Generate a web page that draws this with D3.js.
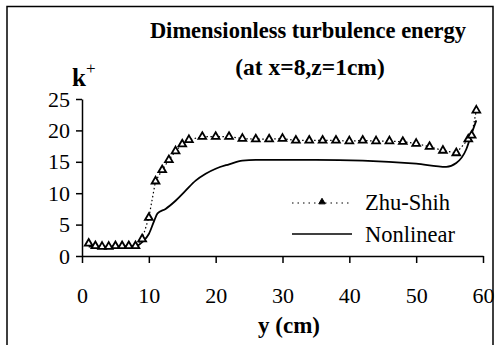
<!DOCTYPE html>
<html><head><meta charset="utf-8">
<script src="https://cdn.jsdelivr.net/npm/d3@7"></script>
<style>body{margin:0;background:#fff}svg{display:block}
text{font-family:"Liberation Serif","Times New Roman",Times,serif}</style>
</head><body>
<svg id="c" width="499" height="345"></svg>
<script>
const zhuY = [1, 2, 3, 4, 5, 6, 7, 8, 9, 10, 11, 12, 13, 14, 15, 16, 18, 20, 22, 24, 26, 28, 30, 32, 34, 36, 38, 40, 42, 44, 46, 48, 50, 52, 54, 56, 57.8, 58.3, 59];
const zhuK = [2.0, 1.6, 1.5, 1.5, 1.6, 1.6, 1.6, 1.6, 2.7, 6.1, 11.9, 13.7, 15.3, 16.7, 17.8, 18.5, 19.0, 19.0, 19.0, 18.7, 18.6, 18.6, 18.7, 18.4, 18.4, 18.4, 18.4, 18.3, 18.4, 18.3, 18.3, 18.2, 17.9, 17.4, 16.8, 16.4, 18.6, 19.2, 23.2];
const nonY = [1, 8, 9, 10, 10.8, 11.3, 12.5, 14, 15.5, 17, 18.5, 20, 22, 24, 26, 35, 42, 50, 54.5, 56, 57.5, 58.3, 59];
const nonK = [1.5, 1.5, 2.2, 3.5, 5.6, 6.8, 7.5, 8.8, 10.4, 12, 13.1, 13.9, 14.6, 15.2, 15.3, 15.3, 15.2, 14.7, 14.2, 14.8, 17, 19.5, 21.6];
const xTicks = [0, 10, 20, 30, 40, 50, 60];
const yTicks = [0, 5, 10, 15, 20, 25];
const seriesNames = ["Zhu-Shih", "Nonlinear"];

const svg = d3.select("#c");
const font = '"Liberation Serif","Times New Roman",Times,serif';
const x = d3.scaleLinear().domain([0, 60]).range([82, 483]);
const y = d3.scaleLinear().domain([0, 25]).range([256, 99]);

// border
svg.append("path").attr("d", "M7,346 L7,6.5 L493,6.5 L493,346")
  .attr("fill", "none").attr("stroke", "#000").attr("stroke-width", 1.5);

// axes
const ax = svg.append("g").attr("transform", "translate(0,256)")
  .call(d3.axisBottom(x).tickValues(xTicks).tickSize(7).tickPadding(24).tickSizeOuter(0));
const ay = svg.append("g").attr("transform", "translate(82,0)")
  .call(d3.axisLeft(y).tickValues(yTicks).tickSize(6).tickPadding(6).tickSizeOuter(0));
[ax, ay].forEach(g => {
  g.attr("font-family", null).attr("font-size", null);
  g.select(".domain").attr("stroke", "#000").attr("stroke-width", 1.5);
  g.selectAll(".tick line").attr("stroke", "#000").attr("stroke-width", 1.5);
  g.selectAll(".tick text").attr("fill", "#000").attr("font-family", font).attr("font-size", 22);
});

// lines
const line = d3.line().x(d => x(d[0])).y(d => y(d[1]));
const zhu = zhuY.map((v, i) => [v, zhuK[i]]);
const non = nonY.map((v, i) => [v, nonK[i]]);
svg.append("path").attr("d", line(zhu)).attr("fill", "none").attr("stroke", "#000")
  .attr("stroke-width", 1.2).attr("stroke-dasharray", "1.5,2.5");
svg.append("path").attr("d", d3.line().curve(d3.curveMonotoneX).x(d => x(d[0])).y(d => y(d[1]))(non))
  .attr("fill", "none").attr("stroke", "#000").attr("stroke-width", 1.8);

const tri = d3.symbol().type(d3.symbolTriangle).size(26);
svg.append("g").selectAll("path").data(zhu).join("path")
  .attr("d", tri).attr("transform", d => `translate(${x(d[0])},${y(d[1])})`)
  .attr("fill", "#fff").attr("stroke", "#000").attr("stroke-width", 1.8);

// legend
svg.append("line").attr("x1", 292).attr("x2", 352).attr("y1", 203).attr("y2", 203)
  .attr("stroke", "#000").attr("stroke-width", 1.2).attr("stroke-dasharray", "1.5,4");
svg.append("path").attr("d", d3.symbol().type(d3.symbolTriangle).size(18))
  .attr("transform", "translate(322,202)").attr("fill", "#000").attr("stroke", "#000");
svg.append("line").attr("x1", 292).attr("x2", 352).attr("y1", 234).attr("y2", 234)
  .attr("stroke", "#000").attr("stroke-width", 1.5);
svg.append("text").attr("x", 365).attr("y", 210).text(seriesNames[0])
  .attr("font-family", font).attr("font-size", 22.5);
svg.append("text").attr("x", 365).attr("y", 242).text(seriesNames[1])
  .attr("font-family", font).attr("font-size", 22.5);

// titles
svg.append("text").attr("x", 308).attr("y", 38).attr("text-anchor", "middle")
  .text("Dimensionless turbulence energy")
  .attr("font-family", font).attr("font-size", 22.5).attr("font-weight", "bold");
svg.append("text").attr("x", 310).attr("y", 75).attr("text-anchor", "middle")
  .text("(at x=8,z=1cm)")
  .attr("font-family", font).attr("font-size", 23.5).attr("font-weight", "bold");
const kt = svg.append("text").attr("x", 72).attr("y", 86)
  .attr("font-family", font).attr("font-size", 25).attr("font-weight", "bold");
kt.append("tspan").text("k");
kt.append("tspan").attr("dy", -12).attr("font-size", 17).attr("font-weight", "normal").text("+");
svg.append("text").attr("x", 289).attr("y", 333).attr("text-anchor", "middle")
  .text("y (cm)")
  .attr("font-family", font).attr("font-size", 23).attr("font-weight", "bold");
</script>
</body></html>
